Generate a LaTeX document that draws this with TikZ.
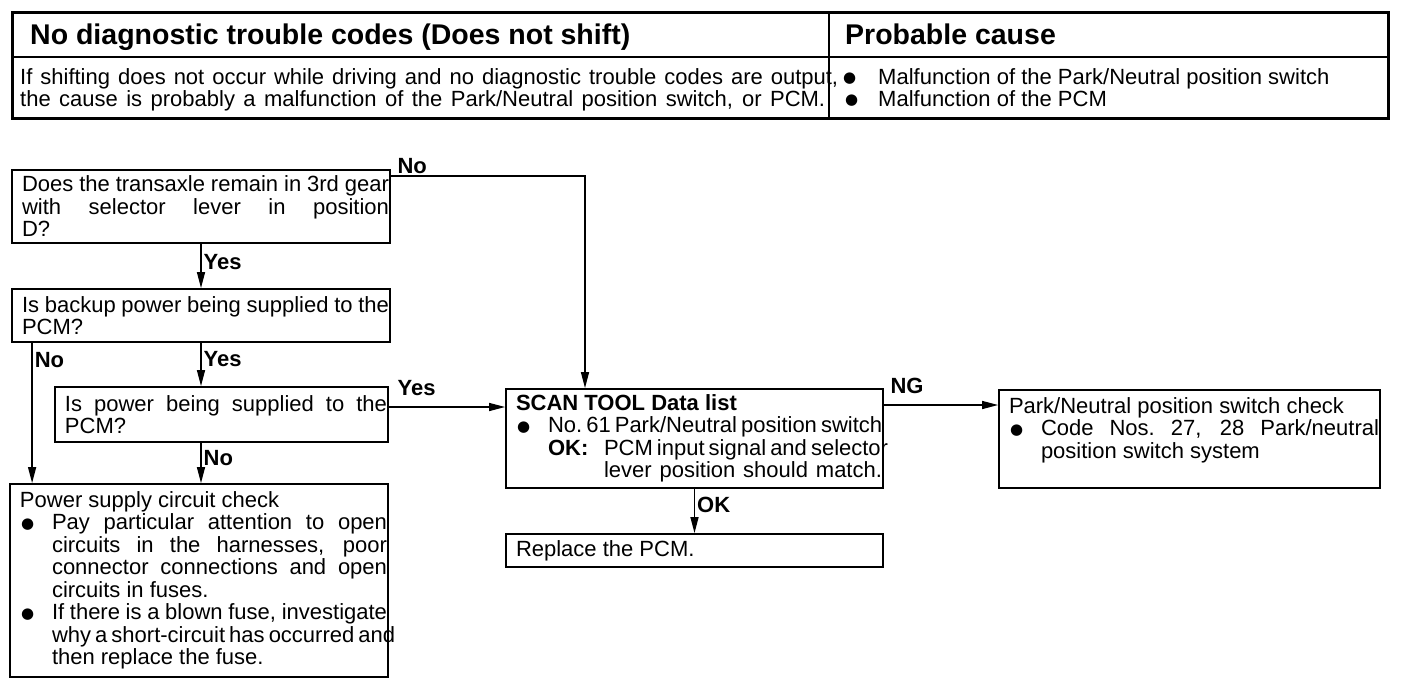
\documentclass[tikz,border=0pt]{standalone}
\usepackage{fontspec}
\setmainfont{Liberation Sans}
\newfontfamily\dvfont{DejaVu Sans}
\usetikzlibrary{arrows.meta}
\newcommand\fz{\fontsize{22pt}{22.5pt}\selectfont}
\newcommand\ttl{\fontsize{28.5pt}{30pt}\selectfont\bfseries}
\newcommand\bul{\raisebox{1.2pt}{\dvfont\fontsize{15pt}{15pt}\selectfont ●}}
\newcommand\ns{\spaceskip=0pt\xspaceskip=0pt\relax}
\newlength\lp
\setlength\lp{9pt}
% justified line
\newcommand\jl[1]{\hspace*{\lp}\makebox[\dimexpr\hsize-\lp\relax][s]{\ns#1}}
% plain line
\newcommand\pl[1]{\hspace*{\lp}{\ns#1}}
% indented justified line with marker
\newcommand\il[3]{\hspace*{\lp}\makebox[#1][l]{\hspace*{1pt}#2}\makebox[\dimexpr\hsize-\lp-#1\relax][s]{\ns#3}}
% indented plain line with marker
\newcommand\ip[3]{\hspace*{\lp}\makebox[#1][l]{\hspace*{1pt}#2}{\ns#3}}
\begin{document}
\begin{tikzpicture}[x=1pt,y=-1pt,
  box/.style={draw, line width=1.8pt, inner sep=0pt, align=left, font=\fz},
  arr/.style={line width=1.4pt, -{Triangle[length=16pt,width=8pt]}},
  lbl/.style={font=\fz\bfseries, inner sep=2pt},
  htxt/.style={anchor=base west, inner sep=0pt, font=\fz}]
\useasboundingbox (0,0) rectangle (1408,694);
% header table
\draw[line width=3pt] (12,12) rectangle (1388,118);
\draw[line width=1.8pt] (12,57) -- (1388,57);
\draw[line width=1.8pt] (829,12) -- (829,118);
\node[anchor=base west, inner sep=0pt, font=\ttl] (t1) at (30,44) {No diagnostic trouble codes (Does not shift)};
\node[anchor=base west, inner sep=0pt, font=\ttl] (t2) at (845,44) {Probable cause};
\node[htxt] (d1) at (20,84) {\makebox[818pt][s]{If shifting does not occur while driving and no diagnostic trouble codes are output,}};
\node[htxt] (d2) at (20,106) {\makebox[805pt][s]{the cause is probably a malfunction of the Park/Neutral position switch, or PCM.}};
\node[htxt] (c1) at (843,84) {\makebox[35pt][l]{\bul}Malfunction of the Park/Neutral position switch};
\node[htxt] (c2) at (845,106) {\makebox[33pt][l]{\bul}Malfunction of the PCM};
% flowchart boxes
\node[box, minimum width=378pt, minimum height=73pt, text width=376pt] (A) at (201,206.5)
  {\jl{Does the transaxle remain in 3rd gear}\\ \jl{with selector lever in position}\\ \pl{D?}};
\node[box, minimum width=378pt, minimum height=53pt, text width=376pt] (B) at (201,315.5)
  {\jl{Is backup power being supplied to the}\\ \pl{PCM?}};
\node[box, minimum width=333pt, minimum height=55pt, text width=331pt] (C) at (221.5,414.5)
  {\jl{Is power being supplied to the}\\ \pl{PCM?}};
\node[box, minimum width=378pt, minimum height=193pt, text width=376pt] (D) at (199,580.5)
  {\pl{Power supply circuit check}\\
   \il{32pt}{\bul}{Pay particular attention to open}\\
   \il{32pt}{}{circuits in the harnesses, poor}\\
   \il{32pt}{}{connector connections and open}\\
   \ip{32pt}{}{circuits in fuses.}\\
   \il{32pt}{\bul}{If there is a blown fuse, investigate}\\
   \il{32pt}{}{why a short-circuit has occurred and}\\
   \ip{32pt}{}{then replace the fuse.}};
\node[box, minimum width=377pt, minimum height=99pt, text width=375pt] (E) at (694.5,438.5)
  {\pl{\textbf{SCAN TOOL Data list}}\\
   \il{32pt}{\bul}{No.\ 61 Park/Neutral position switch}\\
   \hspace*{\lp}\hspace*{32pt}\makebox[56pt][l]{\textbf{OK:}}\makebox[\dimexpr\hsize-\lp-88pt\relax][s]{\ns PCM input signal and selector}\\
   \hspace*{\lp}\hspace*{88pt}\makebox[\dimexpr\hsize-\lp-88pt\relax][s]{\ns lever position should match.}};
\node[box, minimum width=377pt, minimum height=33pt, text width=375pt] (F) at (694.5,550.5)
  {\pl{Replace the PCM.}};
\node[box, minimum width=381pt, minimum height=98pt, text width=379pt] (G) at (1189.5,439)
  {\pl{Park/Neutral position switch check}\\
   \il{32pt}{\bul}{Code Nos.\ 27, 28 Park/neutral}\\
   \ip{32pt}{}{position switch system}\\ \mbox{}};
% connectors
\draw[arr] (A.south) -- (B.north) node[lbl, right, pos=0.4] (lAB) {Yes};
\draw[arr] (B.south) -- (B.south |- C.north) node[lbl, right, pos=0.37] (lBC) {Yes};
\coordinate (bd) at ([xshift=21pt]B.south west);
\draw[arr] (bd) -- (bd |- D.north) node[lbl, right, pos=0.12] (lBD) {No};
\draw[arr] (B.south |- C.south) -- (B.south |- D.north) node[lbl, right, pos=0.38] (lCD) {No};
\coordinate (ae) at ([yshift=-7pt]A.north east);
\draw[arr] (ae) -| (585,0 |- E.north) node[lbl, above right, pos=0, xshift=4pt] (lAE) {No};
\coordinate (ce) at ([yshift=7.5pt]C.east);
\draw[arr] (ce) -- (ce -| E.west) node[lbl, above right, pos=0, xshift=6pt, yshift=9pt] (lCE) {Yes};
\coordinate (eg) at ([yshift=33.5pt]E.east);
\draw[arr] (eg) -- (eg -| G.west) node[lbl, above right, pos=0, xshift=4pt, yshift=9pt] (lEG) {NG};
\draw[arr] (E.south) -- (F.north) node[lbl, right, pos=0.37] (lEF) {OK};
\end{tikzpicture}
\end{document}
